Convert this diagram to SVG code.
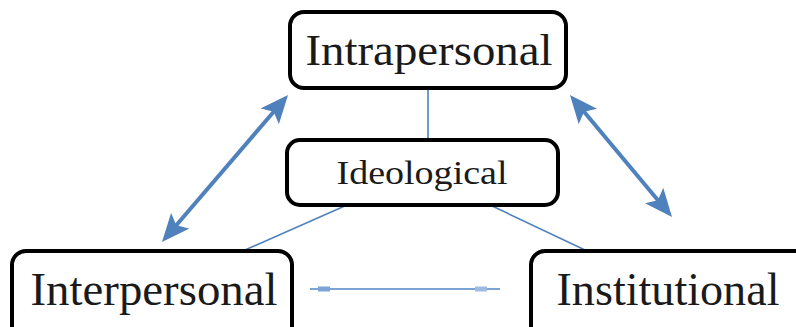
<svg xmlns="http://www.w3.org/2000/svg" width="796" height="327" viewBox="0 0 796 327">
<style>
.box{fill:#fff;stroke:#000;stroke-width:4}
.lbl{font-family:"Liberation Serif","Times New Roman",serif;fill:#1a1a1a;text-anchor:middle}
.thin{stroke:#4f81bd;stroke-width:1.6;fill:none}
.thick{stroke:#4f81bd;stroke-width:4;fill:none;marker-start:url(#ah);marker-end:url(#ah)}
</style>
<defs>
<marker id="ah" viewBox="0 0 28 24" refX="8" refY="12" markerWidth="28" markerHeight="24" markerUnits="userSpaceOnUse" orient="auto-start-reverse">
<path d="M0,0 L28,12 L0,24 L6,12 Z" fill="#4f81bd"/>
</marker>
</defs>
<rect width="796" height="327" fill="#fff"/>
<g id="connectors">
<line class="thin" x1="428" y1="90" x2="428" y2="140"/>
<line class="thin" x1="347" y1="205" x2="245" y2="250"/>
<line class="thin" x1="490" y1="205" x2="585" y2="250"/>
<line class="thick" x1="175" y1="226.8" x2="275" y2="110.2"/>
<line class="thick" x1="582.8" y1="110.3" x2="659.2" y2="201.7"/>
<line x1="310" y1="289" x2="500" y2="289" stroke="#7ba3d6" stroke-width="2"/>
<rect x="318" y="286.5" width="12" height="5" fill="#7ba3d6"/>
<rect x="475" y="286.5" width="12" height="5" fill="#9dbbe2"/>
</g>
<g id="intrapersonal">
<rect class="box" x="290" y="12" width="276" height="76" rx="14"/>
<text class="lbl" x="429" y="65" font-size="44" textLength="247" lengthAdjust="spacingAndGlyphs">Intrapersonal</text>
</g>
<g id="ideological">
<rect class="box" x="287" y="140" width="271" height="65" rx="13"/>
<text class="lbl" x="422" y="184" font-size="33" textLength="171" lengthAdjust="spacingAndGlyphs">Ideological</text>
</g>
<g id="interpersonal">
<rect class="box" x="12" y="251" width="280" height="100" rx="14"/>
<text class="lbl" x="154" y="305" font-size="46" textLength="247" lengthAdjust="spacingAndGlyphs">Interpersonal</text>
</g>
<g id="institutional">
<rect class="box" x="531" y="251" width="280" height="100" rx="14"/>
<text class="lbl" x="668" y="305" font-size="46" textLength="223" lengthAdjust="spacingAndGlyphs">Institutional</text>
</g>
</svg>
